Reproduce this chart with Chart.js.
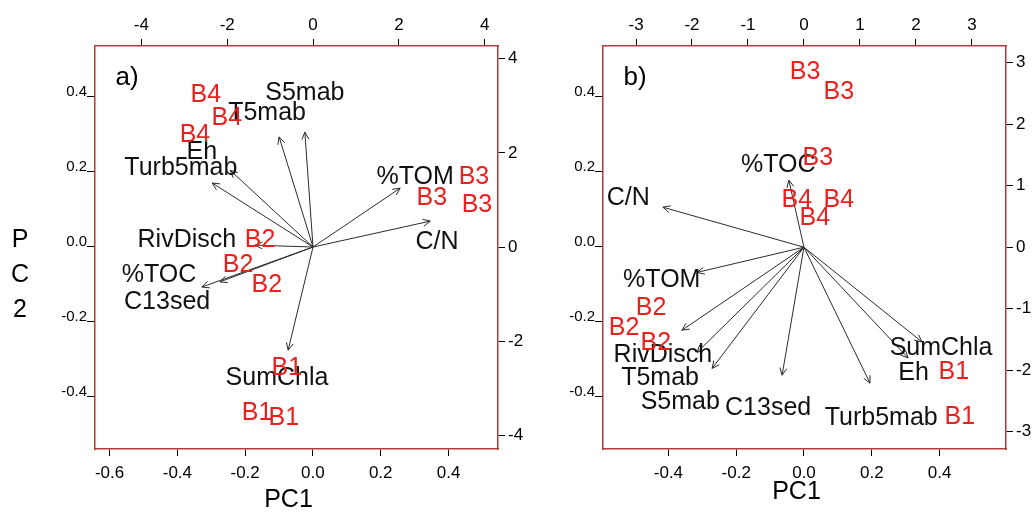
<!DOCTYPE html>
<html>
<head>
<meta charset="utf-8">
<script src="https://cdn.jsdelivr.net/npm/chart.js@4.4.1/dist/chart.umd.min.js"></script>
<style>
  body { margin: 0; background: #fff; }
  #wrap { position: relative; width: 1032px; height: 512px; overflow: hidden; }
  canvas { position: absolute; top: 0; }
  #chartA { left: 0; }
  #chartB { left: 516px; }
</style>
</head>
<body>
<div id="wrap">
  <canvas id="chartA" width="530" height="512"></canvas>
  <canvas id="chartB" width="516" height="512"></canvas>
</div>
<script>
// variables (arrows), same order in both panels
const varNames = ['Turb5mab', 'Eh', 'T5mab', 'S5mab', '%TOM', 'C/N', 'RivDisch', '%TOC', 'C13sed', 'SumChla'];

// panel a) - arrows and variable labels on top/right scale
const aArrowX = [-2.35, -1.93, -0.79, -0.19, 2.03, 2.73, -1.35, -2.17, -2.59, -0.58];
const aArrowY = [1.36, 1.63, 2.34, 2.44, 1.25, 0.55, 0.04, -0.74, -0.85, -2.19];
const aVarLabelX = [-3.08, -2.59, -1.07, -0.19, 2.38, 2.89, -2.94, -3.59, -3.40, -0.84];
const aVarLabelY = [1.68, 2.02, 2.85, 3.27, 1.49, 0.11, 0.15, -0.59, -1.17, -2.78];
// panel a) - sites on PC1/PC2 scale
const aSiteNames = ['B4', 'B4', 'B4', 'B3', 'B3', 'B3', 'B2', 'B2', 'B2', 'B1', 'B1', 'B1'];
const aSiteX = [-0.316, -0.254, -0.348, 0.475, 0.351, 0.484, -0.156, -0.221, -0.136, -0.077, -0.165, -0.086];
const aSiteY = [0.405, 0.344, 0.299, 0.187, 0.131, 0.112, 0.019, -0.048, -0.101, -0.323, -0.443, -0.456];

// panel b)
const bArrowX = [1.18, 1.86, -1.91, -1.64, -1.91, -2.52, -2.18, -0.27, -0.39, 2.11];
const bArrowY = [-2.21, -1.80, -1.71, -1.97, -0.41, 0.65, -1.35, 1.09, -2.08, -1.54];
const bVarLabelX = [1.38, 1.96, -2.57, -2.21, -2.54, -3.14, -2.52, -0.46, -0.64, 2.45];
const bVarLabelY = [-2.78, -2.05, -2.13, -2.52, -0.54, 0.80, -1.76, 1.33, -2.62, -1.64];
const bSiteNames = ['B3', 'B3', 'B3', 'B4', 'B4', 'B4', 'B2', 'B2', 'B2', 'B1', 'B1'];
const bSiteX = [0.003, 0.103, 0.041, -0.021, 0.103, 0.032, -0.451, -0.531, -0.437, 0.442, 0.46];
const bSiteY = [0.467, 0.413, 0.237, 0.125, 0.125, 0.077, -0.163, -0.216, -0.256, -0.333, -0.453];

// tick labels
const aPc1Ticks = [-0.6, -0.4, -0.2, 0, 0.2, 0.4];
const aPc2Ticks = [-0.4, -0.2, 0, 0.2, 0.4];
const aTopTicks = [-4, -2, 0, 2, 4];
const aRightTicks = [-4, -2, 0, 2, 4];
const bPc1Ticks = [-0.4, -0.2, 0, 0.2, 0.4];
const bPc2Ticks = [-0.4, -0.2, 0, 0.2, 0.4];
const bTopTicks = [-3, -2, -1, 0, 1, 2, 3];
const bRightTicks = [-3, -2, -1, 0, 1, 2, 3];

const boxColor = '#b23a3a';
const siteColor = '#e8211e';
const fontFam = '"Liberation Sans", Arial, Helvetica, sans-serif';

const toPoints = (xs, ys) => xs.map((x, i) => ({ x: x, y: ys[i] }));

// draws arrow heads, text labels and the panel decorations
const biplotPlugin = {
  id: 'biplot',
  afterDatasetsDraw(chart, args, opts) {
    const ctx = chart.ctx;
    ctx.save();
    chart.data.datasets.forEach((ds, i) => {
      const meta = chart.getDatasetMeta(i);
      if (ds.arrow) {
        const p0 = meta.data[0], p1 = meta.data[1];
        const ang = Math.atan2(p1.y - p0.y, p1.x - p0.x);
        const len = 8, spread = Math.PI / 7;
        ctx.strokeStyle = ds.borderColor;
        ctx.lineWidth = 1;
        ctx.beginPath();
        ctx.moveTo(p1.x - len * Math.cos(ang - spread), p1.y - len * Math.sin(ang - spread));
        ctx.lineTo(p1.x, p1.y);
        ctx.lineTo(p1.x - len * Math.cos(ang + spread), p1.y - len * Math.sin(ang + spread));
        ctx.stroke();
      }
      if (ds.textLabels) {
        ctx.font = '25px ' + fontFam;
        ctx.fillStyle = ds.textColor;
        ctx.textAlign = 'center';
        ctx.textBaseline = 'middle';
        meta.data.forEach((pt, j) => ctx.fillText(ds.textLabels[j], pt.x, pt.y));
      }
    });

    const area = chart.chartArea;
    ctx.fillStyle = '#000';
    ctx.textAlign = 'center';
    ctx.textBaseline = 'middle';
    ctx.font = '26px ' + fontFam;
    ctx.fillText(opts.panel, area.left + 32, area.top + 32);
    ctx.font = '25px ' + fontFam;
    ctx.fillText('PC1', (area.left + area.right) / 2 - 8, opts.pc1Y);
    if (opts.pc2) {
      ['P', 'C', '2'].forEach((ch, k) => ctx.fillText(ch, 20, 240 + k * 35));
    }
    ctx.restore();
  }
};

function makeAxis(pos, min, max, vals, size, labelFont, fmt, extra) {
  const horizontal = pos === 'top' || pos === 'bottom';
  return Object.assign({
    type: 'linear',
    position: pos,
    min: min,
    max: max,
    afterBuildTicks: scale => { scale.ticks = vals.map(v => ({ value: v })); },
    afterFit: scale => {
      if (horizontal) scale.height = size; else scale.width = size;
    },
    grid: { drawOnChartArea: false, drawTicks: true, tickLength: 7, tickColor: '#000', tickWidth: 1 },
    border: { display: true, color: boxColor, width: 1.5 },
    ticks: {
      color: '#000',
      font: { family: fontFam, size: labelFont },
      padding: 3,
      maxRotation: 0,
      autoSkip: false,
      callback: fmt
    }
  }, extra || {});
}

function makeBiplot(canvasId, p) {
  const datasets = [];
  p.arrowX.forEach((x, i) => {
    datasets.push({
      type: 'scatter',
      showLine: true,
      arrow: true,
      data: [{ x: 0, y: 0 }, { x: x, y: p.arrowY[i] }],
      xAxisID: 'x2',
      yAxisID: 'y2',
      borderColor: '#2b2b2b',
      borderWidth: 1,
      pointRadius: 0
    });
  });
  datasets.push({
    type: 'scatter',
    data: toPoints(p.varLabelX, p.varLabelY),
    textLabels: varNames,
    textColor: '#111',
    xAxisID: 'x2',
    yAxisID: 'y2',
    pointRadius: 0
  });
  datasets.push({
    type: 'scatter',
    data: toPoints(p.siteX, p.siteY),
    textLabels: p.siteNames,
    textColor: siteColor,
    xAxisID: 'x',
    yAxisID: 'y',
    pointRadius: 0
  });

  const dec = v => Number(v).toFixed(1);
  const int = v => String(v);

  return new Chart(document.getElementById(canvasId), {
    type: 'scatter',
    data: { datasets: datasets },
    options: {
      responsive: false,
      animation: false,
      devicePixelRatio: 1,
      layout: { padding: 0 },
      plugins: {
        legend: { display: false },
        tooltip: { enabled: false },
        biplot: { panel: p.panel, pc1Y: p.pc1Y, pc2: p.pc2 }
      },
      scales: {
        x: makeAxis('bottom', p.xRange[0], p.xRange[1], p.pc1Ticks, 63, 17, dec, {}),
        y: makeAxis('left', p.yRange[0], p.yRange[1], p.pc2Ticks, p.leftW, 15, dec, {}),
        x2: makeAxis('top', p.x2Range[0], p.x2Range[1], p.topTicks, 46, 17, int, {}),
        y2: makeAxis('right', p.y2Range[0], p.y2Range[1], p.rightTicks, p.rightW, 17, int, {})
      }
    },
    plugins: [biplotPlugin]
  });
}

// extra tick tweaks (label spacing as in the reference)
function tweak(chart) {
  chart.options.scales.x.ticks.padding = 7;
  chart.options.scales.y.ticks.padding = 0;
  chart.options.scales.y.ticks.labelOffset = -5;
  chart.options.scales.y.grid.tickLength = 8;
  chart.update();
}

const chartA = makeBiplot('chartA', {
  panel: 'a)', pc1Y: 500, pc2: true,
  arrowX: aArrowX, arrowY: aArrowY, varLabelX: aVarLabelX, varLabelY: aVarLabelY,
  siteNames: aSiteNames, siteX: aSiteX, siteY: aSiteY,
  pc1Ticks: aPc1Ticks, pc2Ticks: aPc2Ticks, topTicks: aTopTicks, rightTicks: aRightTicks,
  xRange: [-0.643, 0.546], yRange: [-0.539, 0.536],
  x2Range: [-5.08, 4.31], y2Range: [-4.29, 4.27],
  leftW: 95, rightW: 32
});

const chartB = makeBiplot('chartB', {
  panel: 'b)', pc1Y: 492, pc2: false,
  arrowX: bArrowX, arrowY: bArrowY, varLabelX: bVarLabelX, varLabelY: bVarLabelY,
  siteNames: bSiteNames, siteX: bSiteX, siteY: bSiteY,
  pc1Ticks: bPc1Ticks, pc2Ticks: bPc2Ticks, topTicks: bTopTicks, rightTicks: bRightTicks,
  xRange: [-0.593, 0.596], yRange: [-0.539, 0.536],
  x2Range: [-3.59, 3.61], y2Range: [-3.28, 3.27],
  leftW: 87, rightW: 26
});

tweak(chartA);
tweak(chartB);
</script>
</body>
</html>
